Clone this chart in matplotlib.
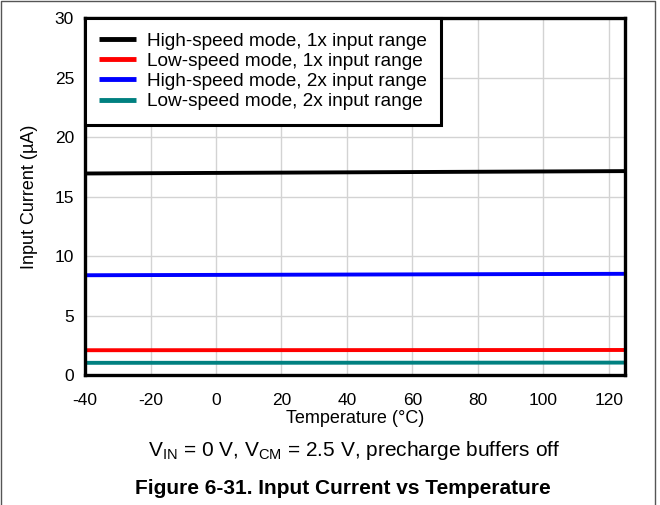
import matplotlib
matplotlib.use("Agg")
import matplotlib.pyplot as plt
from matplotlib.lines import Line2D

plt.rcParams['font.family'] = ['Liberation Sans', 'DejaVu Sans']
plt.rcParams['mathtext.fontset'] = 'custom'
plt.rcParams['mathtext.rm'] = 'Liberation Sans'
plt.rcParams['axes.unicode_minus'] = False

# data
temps = [-40, 125]
hs_1x = [16.95, 17.15]
ls_1x = [2.1, 2.12]
hs_2x = [8.4, 8.52]
ls_2x = [1.04, 1.06]

labels = ['High-speed mode, 1x input range',
          'Low-speed mode, 1x input range',
          'High-speed mode, 2x input range',
          'Low-speed mode, 2x input range']
colors = ['#000000', '#ff0000', '#0000ff', '#008080']

fig = plt.figure(figsize=(6.6, 5.05), dpi=100)
ax = fig.add_axes([0.129, 0.257, 0.818, 0.707])

for series, lab, col in zip([hs_1x, ls_1x, hs_2x, ls_2x], labels, colors):
    ax.plot(temps, series, color=col, lw=2.8, label=lab, solid_capstyle='butt')

ax.set_xlim(-40, 125)
ax.set_ylim(0, 30)
ax.set_xticks(range(-40, 121, 20))
ax.set_yticks(range(0, 31, 5))
ax.grid(True, color='#d3d3d3', lw=1)
ax.set_axisbelow(True)
ax.tick_params(length=0, labelsize=12.5)
ax.tick_params(axis='x', pad=13)
ax.tick_params(axis='y', pad=8)
for s in ax.spines.values():
    s.set_linewidth(2.4)
    s.set_color('black')

ax.set_xlabel('Temperature (\u00b0C)', fontsize=13, labelpad=1)
ax.set_ylabel('Input Current (\u00b5A)', fontsize=13, labelpad=12)

leg = ax.legend(loc='upper left', fontsize=13.7, frameon=True, fancybox=False,
                framealpha=1, borderaxespad=0, handlelength=1.9, handletextpad=0.6,
                labelspacing=0.15, borderpad=0.75)
leg.get_frame().set_edgecolor('black')
leg.get_frame().set_linewidth(2.2)
for h in leg.get_lines():
    h.set_linewidth(3.5)

fig.text(0.537, 0.107, r'V$_{\mathrm{IN}}$ = 0 V, V$_{\mathrm{CM}}$ = 2.5 V, precharge buffers off',
         ha='center', va='center', fontsize=15)
fig.text(0.52, 0.032, 'Figure 6-31. Input Current vs Temperature',
         ha='center', va='center', fontsize=15, fontweight='bold')

# thin frame round the picture (top, left, right)
fig.lines.append(Line2D([0.002, 0.002, 0.993, 0.993], [0.0, 0.998, 0.998, 0.0],
                        transform=fig.transFigure, color='#555555', lw=1))

fig.savefig('out.png', dpi=100)
